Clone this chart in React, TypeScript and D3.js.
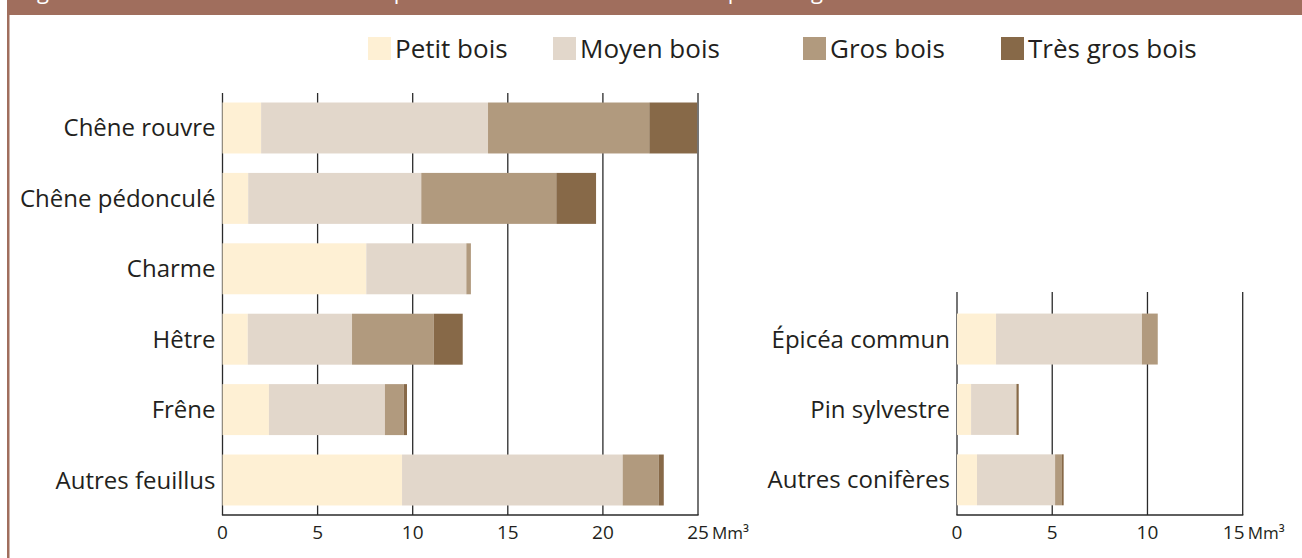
import React from 'react';
import * as d3 from 'd3';

// Feuillus (left panel)
const feuillus = ['Chêne rouvre', 'Chêne pédonculé', 'Charme', 'Hêtre', 'Frêne', 'Autres feuillus'];
const feuillusPetit = [2.03, 1.35, 7.56, 1.33, 2.44, 9.44];
const feuillusMoyen = [11.93, 9.1, 5.26, 5.48, 6.1, 11.6];
const feuillusGros = [8.48, 7.1, 0.24, 4.3, 0.99, 1.9];
const feuillusTresGros = [2.51, 2.09, 0, 1.52, 0.17, 0.26];

// Conifères (right panel)
const coniferes = ['Épicéa commun', 'Pin sylvestre', 'Autres conifères'];
const coniferesPetit = [2.05, 0.74, 1.05];
const coniferesMoyen = [7.66, 2.36, 4.1];
const coniferesGros = [0.83, 0.04, 0.36];
const coniferesTresGros = [0, 0.1, 0.09];

const keys = ['Petit bois', 'Moyen bois', 'Gros bois', 'Très gros bois'];
const colors = ['#fef0d4', '#e2d7cb', '#b19a7e', '#876948'];

const ticksLeft = [0, 5, 10, 15, 20, 25];
const ticksRight = [0, 5, 10, 15];
const unit = 'Mm³';
const title = 'Figure 8 – Volume de bois vivant sur pied des feuillus et des résineux par catégorie de dimension';

const W = 1302;
const H = 558;
const FONT = '"Open Sans", sans-serif';
const TXT = '#231f20';
const AXIS = '#2a2a2a';
const FRAME = '#a06e5d';

const legendX = [368, 553, 803, 1001];

function makeRows(cats: string[], series: number[][]) {
  return cats.map((c, i) => {
    const row: any = { cat: c };
    keys.forEach((k, j) => { row[k] = series[j][i]; });
    return row;
  });
}

const stack = d3.stack<any>().keys(keys);

function Panel({ cats, series, ticks, x, y, lastShift }: any) {
  const layers = stack(makeRows(cats, series));
  const [y0, y1] = y.range();
  const x0 = x.range()[0];
  const xEnd = x.range()[1];
  return (
    <g>
      {ticks.map((t: number) => (
        <line key={'g' + t} x1={x(t)} x2={x(t)} y1={y0} y2={y1} stroke={AXIS} strokeWidth={1.3} />
      ))}
      {layers.map((layer: any, li: number) => (
        <g key={layer.key} fill={colors[li]}>
          {layer.map((d: any, i: number) => (
            <rect key={i} x={x(d[0])} y={y(cats[i])} width={Math.max(0, x(d[1]) - x(d[0]))} height={y.bandwidth()} />
          ))}
        </g>
      ))}
      <line x1={x0 - 0.6} x2={xEnd + 0.6} y1={y1} y2={y1} stroke={AXIS} strokeWidth={1.5} />
      {cats.map((c: string) => (
        <text key={c} x={x0 - 7} y={y(c) + y.bandwidth() / 2 + 8.5} textAnchor="end"
          fontFamily={FONT} fontSize={24} fill={TXT}>{c}</text>
      ))}
      {ticks.map((t: number, i: number) => (
        <text key={'t' + t} x={x(t) + (i === ticks.length - 1 ? lastShift : 0)} y={539}
          textAnchor="middle" fontFamily={FONT} fontSize={19} fill={TXT}>{t}</text>
      ))}
      <text x={xEnd + 14 + lastShift} y={539} fontFamily={FONT} fontSize={17} fill={TXT}>{unit}</text>
    </g>
  );
}

export default function App() {
  const xLeft = d3.scaleLinear().domain([0, 25]).range([222.5, 698]);
  const xRight = d3.scaleLinear().domain([0, 15]).range([957, 1242.7]);

  const yLeft = d3.scaleBand<string>().domain(feuillus).range([93, 515])
    .paddingInner(0.276).paddingOuter(0.135);
  const yRight = d3.scaleBand<string>().domain(coniferes).range([292, 515])
    .paddingInner(0.276).paddingOuter(0.222).align(0.69);

  return (
    <div>
      <style>{'body{margin:0}'}</style>
      <svg width={W} height={H} style={{ display: 'block', background: '#fff' }}>
        <rect x={7} y={0} width={W - 7} height={15} fill={FRAME} />
        <text x={20} y={-1} fontFamily={FONT} fontSize={22} fill="#fff">{title}</text>
        <rect x={7} y={0} width={2.5} height={H} fill={FRAME} />

        {keys.map((k, i) => (
          <g key={k} transform={`translate(${legendX[i]},37)`}>
            <rect width={23} height={23} fill={colors[i]} />
            <text x={27} y={20.5} fontFamily={FONT} fontSize={26} fill={TXT}>{k}</text>
          </g>
        ))}

        <Panel cats={feuillus}
          series={[feuillusPetit, feuillusMoyen, feuillusGros, feuillusTresGros]}
          ticks={ticksLeft} x={xLeft} y={yLeft} lastShift={0} />
        <Panel cats={coniferes}
          series={[coniferesPetit, coniferesMoyen, coniferesGros, coniferesTresGros]}
          ticks={ticksRight} x={xRight} y={yRight} lastShift={-9} />
      </svg>
    </div>
  );
}
